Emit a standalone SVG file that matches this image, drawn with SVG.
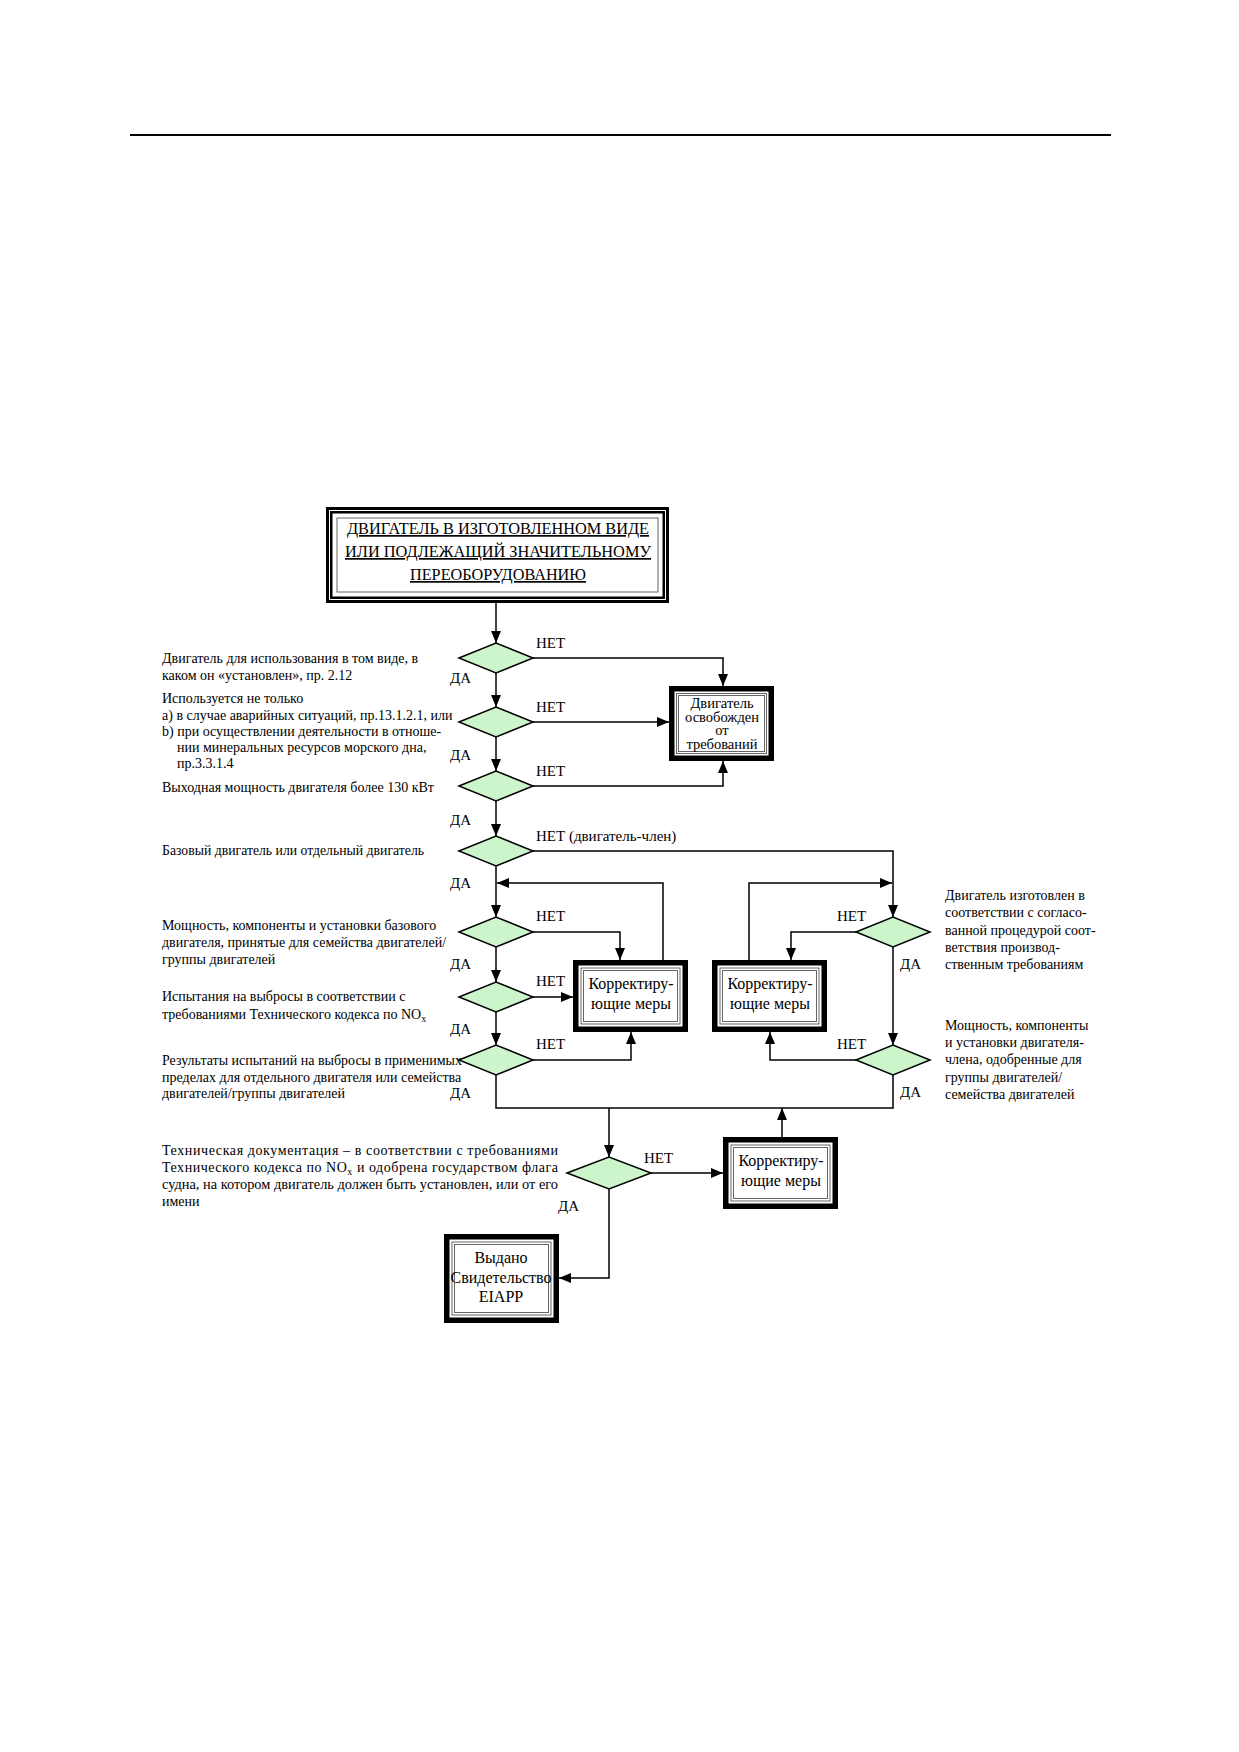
<svg xmlns="http://www.w3.org/2000/svg" width="1239" height="1752" viewBox="0 0 1239 1752">
<style>
text{font-family:"Liberation Serif","Times New Roman",serif;fill:#000}
.t{font-size:14px}
.lb{font-size:15px}
.bx{font-size:16px;text-anchor:middle}
.bs{font-size:14.5px;text-anchor:middle}
.hd{font-size:17px;text-anchor:middle;text-decoration:underline}
.fo{fill:#fff;stroke:#000;stroke-width:5.5}
.fi{fill:none;stroke:#666;stroke-width:1}
.ho{fill:#fff;stroke:#000;stroke-width:3}
.hm{fill:none;stroke:#000;stroke-width:2.5}
.dm{fill:#ccf5cc;stroke:#000;stroke-width:1.5}
.cn{fill:none;stroke:#000;stroke-width:1.5}
.ar{fill:none;stroke:#000;stroke-width:1.5;marker-end:url(#ah)}
</style>
<defs>
<marker id="ah" markerWidth="12" markerHeight="10" refX="12" refY="5" orient="auto" markerUnits="userSpaceOnUse">
<path d="M0,0 L12,5 L0,10 z" fill="#000"/>
</marker>
</defs>
<rect width="1239" height="1752" fill="#fff"/>
<line x1="130" y1="135" x2="1111" y2="135" stroke="#000" stroke-width="2"/>

<g id="connectors">
<path class="ar" d="M496,603 V643"/>
<path class="ar" d="M496,673 V707"/>
<path class="ar" d="M496,737 V771"/>
<path class="ar" d="M496,801 V836"/>
<path class="ar" d="M496,866 V917"/>
<path class="ar" d="M496,947 V982"/>
<path class="ar" d="M496,1012 V1045"/>
<path class="cn" d="M496,1075 V1108 H893 V1075"/>
<path class="ar" d="M609,1108 V1157"/>
<path class="ar" d="M651,1173 H723"/>
<path class="ar" d="M782,1137 V1108"/>
<path class="ar" d="M609,1189 V1278 H559"/>
<path class="ar" d="M533,658 H723 V686"/>
<path class="ar" d="M533,722 H669"/>
<path class="ar" d="M533,786 H723 V761"/>
<path class="ar" d="M533,851 H893 V917"/>
<path class="ar" d="M663,960 V883 H497"/>
<path class="ar" d="M533,932 H620 V960"/>
<path class="ar" d="M533,997 H573"/>
<path class="ar" d="M533,1060 H631 V1032"/>
<path class="ar" d="M893,947 V1045"/>
<path class="ar" d="M856,932 H791 V960"/>
<path class="ar" d="M749,960 V883 H892"/>
<path class="ar" d="M856,1060 H770 V1032"/>
</g>

<g id="start">
<rect class="ho" x="327.5" y="508.5" width="340" height="93"/>
<rect class="hm" x="331.25" y="512.25" width="332.5" height="85.5"/>
<rect class="fi" x="337" y="518" width="321" height="74"/>
<text class="hd" x="498" y="534" textLength="302" lengthAdjust="spacingAndGlyphs">ДВИГАТЕЛЬ В ИЗГОТОВЛЕННОМ ВИДЕ</text>
<text class="hd" x="498" y="557" textLength="306" lengthAdjust="spacingAndGlyphs">ИЛИ ПОДЛЕЖАЩИЙ ЗНАЧИТЕЛЬНОМУ</text>
<text class="hd" x="498" y="580" textLength="176" lengthAdjust="spacingAndGlyphs">ПЕРЕОБОРУДОВАНИЮ</text>
</g>

<g id="d1">
<path class="dm" d="M459,658 L496,643 L533,658 L496,673 Z"/>
<text class="t" x="162" y="663">Двигатель для использования в том виде, в</text>
<text class="t" x="162" y="680">каком он «установлен», пр. 2.12</text>
</g>
<g id="d2">
<path class="dm" d="M459,722 L496,707 L533,722 L496,737 Z"/>
<text class="t" x="162" y="703">Используется не только</text>
<text class="t" x="162" y="720">a) в случае аварийных ситуаций, пр.13.1.2.1, или</text>
<text class="t" x="162" y="736">b) при осуществлении деятельности в отноше-</text>
<text class="t" x="177" y="752">нии минеральных ресурсов морского дна,</text>
<text class="t" x="177" y="768">пр.3.3.1.4</text>
</g>
<g id="d3">
<path class="dm" d="M459,786 L496,771 L533,786 L496,801 Z"/>
<text class="t" x="162" y="792">Выходная мощность двигателя более 130 кВт</text>
</g>
<g id="d4">
<path class="dm" d="M459,851 L496,836 L533,851 L496,866 Z"/>
<text class="t" x="162" y="855" textLength="262" lengthAdjust="spacingAndGlyphs">Базовый двигатель или отдельный двигатель</text>
</g>
<g id="d5">
<path class="dm" d="M459,932 L496,917 L533,932 L496,947 Z"/>
<text class="t" x="162" y="930">Мощность, компоненты и установки базового</text>
<text class="t" x="162" y="947">двигателя, принятые для семейства двигателей/</text>
<text class="t" x="162" y="964">группы двигателей</text>
</g>
<g id="d6">
<path class="dm" d="M459,997 L496,982 L533,997 L496,1012 Z"/>
<text class="t" x="162" y="1001">Испытания на выбросы в соответствии с</text>
<text class="t" x="162" y="1019">требованиями Технического кодекса по NO<tspan font-size="10" dy="3">x</tspan></text>
</g>
<g id="d7">
<path class="dm" d="M459,1060 L496,1045 L533,1060 L496,1075 Z"/>
<text class="t" x="162" y="1065">Результаты испытаний на выбросы в применимых</text>
<text class="t" x="162" y="1082">пределах для отдельного двигателя или семейства</text>
<text class="t" x="162" y="1098">двигателей/группы двигателей</text>
</g>
<g id="dr1">
<path class="dm" d="M856,932 L893,917 L930,932 L893,947 Z"/>
<text class="t" x="945" y="900">Двигатель изготовлен в</text>
<text class="t" x="945" y="917">соответствии с согласо-</text>
<text class="t" x="945" y="935">ванной процедурой соот-</text>
<text class="t" x="945" y="952">ветствия производ-</text>
<text class="t" x="945" y="969">ственным требованиям</text>
</g>
<g id="dr2">
<path class="dm" d="M856,1060 L893,1045 L930,1060 L893,1075 Z"/>
<text class="t" x="945" y="1030">Мощность, компоненты</text>
<text class="t" x="945" y="1047">и установки двигателя-</text>
<text class="t" x="945" y="1064">члена, одобренные для</text>
<text class="t" x="945" y="1082">группы двигателей/</text>
<text class="t" x="945" y="1099">семейства двигателей</text>
</g>
<g id="d8">
<path class="dm" d="M567,1173 L609,1157 L651,1173 L609,1189 Z"/>
<text class="t" x="162" y="1155" textLength="396" lengthAdjust="spacing">Техническая документация – в соответствии с требованиями</text>
<text class="t" x="162" y="1172" textLength="396" lengthAdjust="spacing">Технического кодекса по NO<tspan font-size="10" dy="3">x</tspan><tspan dy="-3"> и одобрена государством флага</tspan></text>
<text class="t" x="162" y="1189" textLength="396" lengthAdjust="spacingAndGlyphs">судна, на котором двигатель должен быть установлен, или от его</text>
<text class="t" x="162" y="1206">имени</text>
</g>

<g id="exempt">
<rect class="fo" x="671.75" y="688.75" width="99.5" height="69.5"/>
<rect class="fi" x="676.5" y="693.5" width="90" height="60"/>
<rect class="fi" x="678.5" y="695.5" width="86" height="56"/>
<text class="bs" x="722" y="708">Двигатель</text>
<text class="bs" x="722" y="722">освобожден</text>
<text class="bs" x="722" y="735">от</text>
<text class="bs" x="722" y="749">требований</text>
</g>
<g id="corrL">
<rect class="fo" x="575.75" y="962.75" width="109.5" height="66.5"/>
<rect class="fi" x="581" y="968" width="99" height="56"/>
<rect class="fi" x="583.5" y="970.5" width="94" height="51"/>
<text class="bx" x="631" y="989">Корректиру-</text>
<text class="bx" x="631" y="1009">ющие меры</text>
</g>
<g id="corrR">
<rect class="fo" x="714.75" y="962.75" width="109.5" height="66.5"/>
<rect class="fi" x="720" y="968" width="99" height="56"/>
<rect class="fi" x="722.5" y="970.5" width="94" height="51"/>
<text class="bx" x="770" y="989">Корректиру-</text>
<text class="bx" x="770" y="1009">ющие меры</text>
</g>
<g id="corrB">
<rect class="fo" x="725.75" y="1139.75" width="109.5" height="66.5"/>
<rect class="fi" x="731" y="1145" width="99" height="56"/>
<rect class="fi" x="733.5" y="1147.5" width="94" height="51"/>
<text class="bx" x="781" y="1166">Корректиру-</text>
<text class="bx" x="781" y="1186">ющие меры</text>
</g>
<g id="eiapp">
<rect class="fo" x="446.75" y="1236.75" width="109.5" height="83.5"/>
<rect class="fi" x="452" y="1242" width="99" height="73"/>
<rect class="fi" x="454.5" y="1244.5" width="94" height="68"/>
<text class="bx" x="501" y="1263">Выдано</text>
<text class="bx" x="501" y="1283">Свидетельство</text>
<text class="bx" x="501" y="1302">EIAPP</text>
</g>

<g id="labels">
<text class="lb" x="536" y="648">НЕТ</text>
<text class="lb" x="536" y="712">НЕТ</text>
<text class="lb" x="536" y="776">НЕТ</text>
<text class="lb" x="536" y="841">НЕТ (двигатель-член)</text>
<text class="lb" x="536" y="921">НЕТ</text>
<text class="lb" x="536" y="986">НЕТ</text>
<text class="lb" x="536" y="1049">НЕТ</text>
<text class="lb" x="837" y="921">НЕТ</text>
<text class="lb" x="837" y="1049">НЕТ</text>
<text class="lb" x="644" y="1163">НЕТ</text>
<text class="lb" x="450" y="683">ДА</text>
<text class="lb" x="450" y="760">ДА</text>
<text class="lb" x="450" y="825">ДА</text>
<text class="lb" x="450" y="888">ДА</text>
<text class="lb" x="450" y="969">ДА</text>
<text class="lb" x="450" y="1034">ДА</text>
<text class="lb" x="450" y="1098">ДА</text>
<text class="lb" x="900" y="969">ДА</text>
<text class="lb" x="900" y="1097">ДА</text>
<text class="lb" x="558" y="1211">ДА</text>
</g>
</svg>
